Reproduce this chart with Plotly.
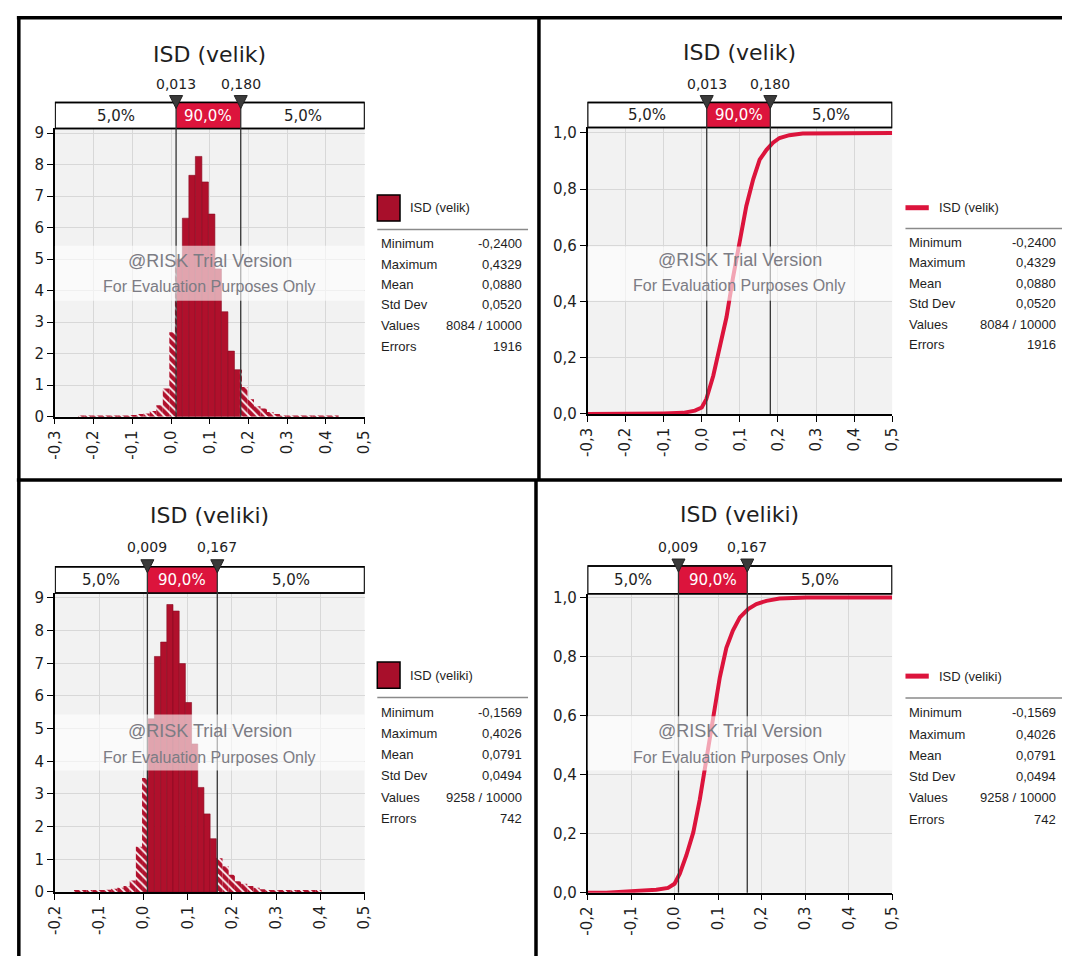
import numpy as np
import plotly.graph_objects as go

W, H = 1071, 965

# ------------------------------------------------------------------ data
TITLE_VELIK = "ISD (velik)"
TITLE_VELIKI = "ISD (veliki)"

# histogram densities (40 equal bins between Minimum and Maximum)
VELIK_HIST = [0.04, 0.04, 0.04, 0.04, 0.04, 0.04, 0.04, 0.04, 0.05, 0.08,
              0.10, 0.18, 0.36, 0.89, 2.68, 5.00, 6.30, 7.66, 8.26, 7.45,
              6.43, 4.69, 3.33, 2.08, 1.49, 0.94, 0.55, 0.33, 0.26, 0.15,
              0.08, 0.04, 0.03, 0.03, 0.03, 0.03, 0.03, 0.03, 0.03, 0.03]
VELIKI_HIST = [0.05, 0.05, 0.05, 0.05, 0.05, 0.07, 0.10, 0.13, 0.18, 0.35,
               1.38, 3.49, 5.30, 7.21, 7.65, 8.80, 8.60, 6.99, 5.80, 4.53,
               3.20, 2.39, 1.63, 1.03, 0.79, 0.53, 0.33, 0.25, 0.18, 0.13,
               0.08, 0.05, 0.05, 0.05, 0.05, 0.05, 0.05, 0.05, 0.05, 0.05]

# cumulative curves
VELIK_CDF_X = [-0.30, -0.24, -0.10, -0.049, -0.018, 0.0, 0.012, 0.030, 0.047, 0.065,
               0.082, 0.100, 0.117, 0.135, 0.152, 0.170, 0.187, 0.204, 0.230, 0.265, 0.50]
VELIK_CDF_P = [0.0, 0.0, 0.002, 0.004, 0.012, 0.023, 0.053, 0.135, 0.230, 0.345,
               0.485, 0.615, 0.740, 0.835, 0.905, 0.940, 0.965, 0.982, 0.992, 0.998, 1.0]
VELIKI_CDF_X = [-0.20, -0.157, -0.042, -0.015, 0.0, 0.012, 0.027, 0.043, 0.058, 0.073,
                0.088, 0.104, 0.119, 0.134, 0.150, 0.169, 0.188, 0.211, 0.241, 0.303, 0.50]
VELIKI_CDF_P = [0.0, 0.0, 0.010, 0.016, 0.030, 0.064, 0.126, 0.204, 0.316, 0.450,
                0.596, 0.730, 0.830, 0.888, 0.933, 0.961, 0.978, 0.989, 0.997, 1.0, 1.0]

# percentiles (5% / 95%) and their labels
VELIK_PCT = [0.013, 0.180]
VELIK_PCT_LABELS = ["0,013", "0,180"]
VELIKI_PCT = [0.009, 0.167]
VELIKI_PCT_LABELS = ["0,009", "0,167"]
BAND_LABELS = ["5,0%", "90,0%", "5,0%"]

# statistics tables
STAT_NAMES = ["Minimum", "Maximum", "Mean", "Std Dev", "Values", "Errors"]
VELIK_MIN, VELIK_MAX = -0.2400, 0.4329
VELIKI_MIN, VELIKI_MAX = -0.1569, 0.4026
VELIK_STATS = ["-0,2400", "0,4329", "0,0880", "0,0520", "8084 / 10000", "1916"]
VELIKI_STATS = ["-0,1569", "0,4026", "0,0791", "0,0494", "9258 / 10000", "742"]

# axis ticks
X_TICKS_TOP = [-0.3, -0.2, -0.1, 0.0, 0.1, 0.2, 0.3, 0.4, 0.5]
X_LABELS_TOP = ["-0,3", "-0,2", "-0,1", "0,0", "0,1", "0,2", "0,3", "0,4", "0,5"]
X_TICKS_BOT = [-0.2, -0.1, 0.0, 0.1, 0.2, 0.3, 0.4, 0.5]
X_LABELS_BOT = ["-0,2", "-0,1", "0,0", "0,1", "0,2", "0,3", "0,4", "0,5"]
Y_TICKS_HIST = [0, 1, 2, 3, 4, 5, 6, 7, 8, 9]
Y_LABELS_HIST = ["0", "1", "2", "3", "4", "5", "6", "7", "8", "9"]
Y_TICKS_CDF = [0.0, 0.2, 0.4, 0.6, 0.8, 1.0]
Y_LABELS_CDF = ["0,0", "0,2", "0,4", "0,6", "0,8", "1,0"]

# ------------------------------------------------------------------ style
RED = "#DC143C"
BAR_RED = "#B0102C"
FONT = "DejaVu Sans"
SFONT = "Liberation Sans"


def fx(x):
    return x / W


def fy(y):
    return 1 - y / H


# panel geometry in pixels
PANELS = [
    dict(kind="hist", ax="", xpx=(46.7, 361.7), ypx=(417.7, 125.3), yr=(0, 9.147),
         xr=(-0.3, 0.5), box_top=99.0, title_y=50, pct_y=80, band=(244.3, 300.0),
         wm=(259.3, 286.0), leg=dict(x0=374.6, x1=397.7, y0=192.7, y1=219.3, ty=205.7, tx=405.6,
                                     sep=227.7, sx1=527.9, lx=376.0, vx=524.0,
                                     rows=[242.3, 263.3, 284.0, 304.3, 325.0, 346.7])),
    dict(kind="cdf", ax="2", xpx=(588.4, 898.3), ypx=(415.0, 124.3), yr=(0, 1.0193),
         xr=(-0.3, 0.5), box_top=99.0, title_y=48.3, pct_y=80, band=(245.0, 300.0),
         wm=(258.3, 285.0), leg=dict(x0=911.8, x1=935.5, ty=205.7, tx=943.7,
                                     sep=226.7, sx1=1071, lx=913.0, vx=1066.6,
                                     rows=[240.7, 261.7, 282.7, 303.3, 324.0, 345.0])),
    dict(kind="hist", ax="3", xpx=(46.7, 361.7), ypx=(900.0, 596.7), yr=(0, 9.151),
         xr=(-0.2, 0.5), box_top=570.0, title_y=518.3, pct_y=550, band=(720.0, 776.7),
         wm=(736.7, 763.3), leg=dict(x0=374.6, x1=397.7, y0=666.7, y1=693.3, ty=680.0, tx=405.6,
                                     sep=702.7, sx1=527.9, lx=376.0, vx=524.0,
                                     rows=[717.7, 739.0, 761.0, 782.3, 804.0, 825.7])),
    dict(kind="cdf", ax="4", xpx=(588.4, 898.3), ypx=(900.7, 597.3), yr=(0, 1.0134),
         xr=(-0.2, 0.5), box_top=569.3, title_y=517.3, pct_y=550, band=(721.7, 776.7),
         wm=(736.7, 764.0), leg=dict(x0=911.8, x1=935.5, ty=681.0, tx=943.7,
                                     sep=703.3, sx1=1071, lx=913.0, vx=1066.6,
                                     rows=[718.3, 740.0, 761.7, 782.7, 804.3, 826.0])),
]
PANEL_DATA = [
    dict(title=TITLE_VELIK, pct=VELIK_PCT, pctl=VELIK_PCT_LABELS, stats=VELIK_STATS,
         hist=VELIK_HIST, vmin=VELIK_MIN, vmax=VELIK_MAX, xt=X_TICKS_TOP, xl=X_LABELS_TOP),
    dict(title=TITLE_VELIK, pct=VELIK_PCT, pctl=VELIK_PCT_LABELS, stats=VELIK_STATS,
         cx=VELIK_CDF_X, cp=VELIK_CDF_P, xt=X_TICKS_TOP, xl=X_LABELS_TOP),
    dict(title=TITLE_VELIKI, pct=VELIKI_PCT, pctl=VELIKI_PCT_LABELS, stats=VELIKI_STATS,
         hist=VELIKI_HIST, vmin=VELIKI_MIN, vmax=VELIKI_MAX, xt=X_TICKS_BOT, xl=X_LABELS_BOT),
    dict(title=TITLE_VELIKI, pct=VELIKI_PCT, pctl=VELIKI_PCT_LABELS, stats=VELIKI_STATS,
         cx=VELIKI_CDF_X, cp=VELIKI_CDF_P, xt=X_TICKS_BOT, xl=X_LABELS_BOT),
]


def split_bins(heights, vmin, vmax, lo, hi):
    edges = np.linspace(vmin, vmax, len(heights) + 1)
    inside = dict(x=[], w=[], y=[])
    outside = dict(x=[], w=[], y=[])
    for h, a, b in zip(heights, edges[:-1], edges[1:]):
        cuts = sorted({a, b, *[c for c in (lo, hi) if a < c < b]})
        for s, e in zip(cuts[:-1], cuts[1:]):
            tgt = inside if (s >= lo - 1e-12 and e <= hi + 1e-12) else outside
            tgt["x"].append((s + e) / 2)
            tgt["w"].append(e - s)
            tgt["y"].append(h)
    return inside, outside


fig = go.Figure()
shapes = []
annotations = []
layout_axes = {}

for P, D in zip(PANELS, PANEL_DATA):
    a = P["ax"]
    xname, yname = "x" + a, "y" + a
    lo, hi = D["pct"]

    xk = "xaxis" + a
    yk = "yaxis" + a
    common = dict(showline=True, linecolor="black", linewidth=1.5, ticks="outside",
                  ticklen=6, tickwidth=1.2, tickcolor="black", showgrid=True,
                  gridcolor="#D8D8D8", gridwidth=1, zeroline=False, fixedrange=True,
                  tickfont=dict(family=FONT, size=15, color="#1E1E1E"))
    layout_axes[xk] = dict(common, domain=[fx(P["xpx"][0]), fx(P["xpx"][1])],
                           range=list(P["xr"]), anchor=yname, tickvals=D["xt"],
                           ticktext=D["xl"], tickangle=-90)
    if P["kind"] == "hist":
        yt, yl = Y_TICKS_HIST, Y_LABELS_HIST
    else:
        yt, yl = Y_TICKS_CDF, Y_LABELS_CDF
    layout_axes[yk] = dict(common, domain=[fy(P["ypx"][0]), fy(P["ypx"][1])],
                           range=list(P["yr"]), anchor=xname, tickvals=yt, ticktext=yl)

    if P["kind"] == "hist":
        ins, outs = split_bins(D["hist"], D["vmin"], D["vmax"], lo, hi)
        fig.add_trace(go.Bar(x=ins["x"], y=ins["y"], width=ins["w"], xaxis=xname, yaxis=yname,
                             marker=dict(color=BAR_RED, line=dict(color="#880B22", width=0.6)),
                             hoverinfo="skip"))
        fig.add_trace(go.Bar(x=outs["x"], y=outs["y"], width=outs["w"], xaxis=xname, yaxis=yname,
                             marker=dict(color=BAR_RED, line=dict(color=BAR_RED, width=0),
                                         pattern=dict(shape="\\", fgcolor="white", bgcolor=BAR_RED,
                                                      size=6, solidity=0.3, fillmode="replace")),
                             hoverinfo="skip"))
    else:
        fig.add_trace(go.Scatter(x=D["cx"], y=D["cp"], mode="lines", xaxis=xname, yaxis=yname,
                                 line=dict(color=RED, width=4), hoverinfo="skip", cliponaxis=False))

    xmin, xmax = P["xr"]
    bt, bb = fy(P["box_top"]), fy(P["ypx"][1])
    shapes.append(dict(type="rect", xref=xname, yref="paper", x0=xmin, x1=xmax, y0=bb, y1=bt,
                       fillcolor="white", line=dict(color="black", width=1.5), layer="above"))
    shapes.append(dict(type="rect", xref=xname, yref="paper", x0=lo, x1=hi, y0=bb, y1=bt,
                       fillcolor=RED, line=dict(width=0), layer="above"))
    shapes.append(dict(type="rect", xref=xname, yref="paper", x0=xmin, x1=xmax, y0=bb, y1=bt,
                       fillcolor="rgba(0,0,0,0)", line=dict(color="black", width=1.5), layer="above"))
    for v in (lo, hi):
        shapes.append(dict(type="line", xref=xname, yref="paper", x0=v, x1=v,
                           y0=fy(P["ypx"][0]), y1=bt, line=dict(color="#333333", width=1.3),
                           layer="above"))
    shapes.append(dict(type="rect", xref="paper", yref="paper", x0=fx(P["xpx"][0]),
                       x1=fx(P["xpx"][1]), y0=fy(P["band"][1]), y1=fy(P["band"][0]),
                       fillcolor="rgba(255,255,255,0.62)", line=dict(width=0), layer="above"))
    for v, lab in zip((lo, hi), D["pctl"]):
        shapes.append(dict(type="path", xref=xname, yref="paper", xsizemode="pixel",
                           ysizemode="pixel", xanchor=v, yanchor=bt,
                           path="M -6.5,7 L 6.5,7 L 0,-6 Z", fillcolor="#3A3A3A",
                           line=dict(color="#222222", width=1), layer="above"))
        annotations.append(dict(x=v, y=fy(P["pct_y"]), xref=xname, yref="paper",
                                text=lab, showarrow=False,
                                font=dict(family=FONT, size=14, color="#1E1E1E"),
                                xanchor="center", yanchor="middle"))
    mids = [(xmin + lo) / 2, (lo + hi) / 2, (hi + xmax) / 2]
    for m, t, c in zip(mids, BAND_LABELS, ["#1E1E1E", "white", "#1E1E1E"]):
        annotations.append(dict(x=m, y=(bt + bb) / 2, xref=xname, yref="paper", text=t,
                                showarrow=False, font=dict(family=FONT, size=15, color=c),
                                xanchor="center", yanchor="middle"))
    cx = (P["xpx"][0] + P["xpx"][1]) / 2
    annotations.append(dict(x=fx(cx), y=fy(P["title_y"]), xref="paper", yref="paper",
                            text=D["title"], showarrow=False,
                            font=dict(family=FONT, size=22, color="#1E1E1E"),
                            xanchor="center", yanchor="middle"))
    annotations.append(dict(x=fx(cx), y=fy(P["wm"][0]), xref="paper", yref="paper",
                            text="@RISK Trial Version", showarrow=False,
                            font=dict(family=SFONT, size=18, color="#7C7C84"),
                            xanchor="center", yanchor="middle"))
    annotations.append(dict(x=fx(cx), y=fy(P["wm"][1]), xref="paper", yref="paper",
                            text="For Evaluation Purposes Only", showarrow=False,
                            font=dict(family=SFONT, size=16, color="#7C7C84"),
                            xanchor="center", yanchor="middle"))
    L = P["leg"]
    if P["kind"] == "hist":
        shapes.append(dict(type="rect", xref="paper", yref="paper", x0=fx(L["x0"]), x1=fx(L["x1"]),
                           y0=fy(L["y1"]), y1=fy(L["y0"]), fillcolor="#A80F2B",
                           line=dict(color="black", width=1.5)))
    else:
        shapes.append(dict(type="line", xref="paper", yref="paper", x0=fx(L["x0"]), x1=fx(L["x1"]),
                           y0=fy(L["ty"]), y1=fy(L["ty"]), line=dict(color=RED, width=5)))
    annotations.append(dict(x=fx(L["tx"]), y=fy(L["ty"]), xref="paper", yref="paper",
                            text=D["title"], showarrow=False,
                            font=dict(family=SFONT, size=13, color="#1E1E1E"),
                            xanchor="left", yanchor="middle"))
    shapes.append(dict(type="line", xref="paper", yref="paper", x0=fx(L["x0"]), x1=fx(L["sx1"]),
                       y0=fy(L["sep"]), y1=fy(L["sep"]), line=dict(color="#8A8A8A", width=1.5)))
    for name, val, ry in zip(STAT_NAMES, D["stats"], L["rows"]):
        annotations.append(dict(x=fx(L["lx"]), y=fy(ry), xref="paper", yref="paper", text=name,
                                showarrow=False, font=dict(family=SFONT, size=13, color="#1E1E1E"),
                                xanchor="left", yanchor="middle"))
        annotations.append(dict(x=fx(L["vx"]), y=fy(ry), xref="paper", yref="paper", text=val,
                                showarrow=False, font=dict(family=SFONT, size=13, color="#1E1E1E"),
                                xanchor="right", yanchor="middle"))

# panel borders
BORDERS = [((8, 13), (1071, 13)), ((10, 12), (10, 965)), ((539, 12), (539, 482)),
           ((536, 482), (536, 965)), ((8, 482), (1071, 482))]
for (x0, y0), (x1, y1) in BORDERS:
    shapes.append(dict(type="line", xref="paper", yref="paper", x0=fx(x0), x1=fx(x1),
                       y0=fy(y0), y1=fy(y1), line=dict(color="black", width=3.5)))

fig.update_layout(width=W, height=H, margin=dict(l=0, r=0, t=0, b=0, pad=0),
                  paper_bgcolor="white", plot_bgcolor="#F2F2F2", showlegend=False,
                  barmode="overlay", shapes=shapes, annotations=annotations, **layout_axes)

fig.write_html("out.html")
